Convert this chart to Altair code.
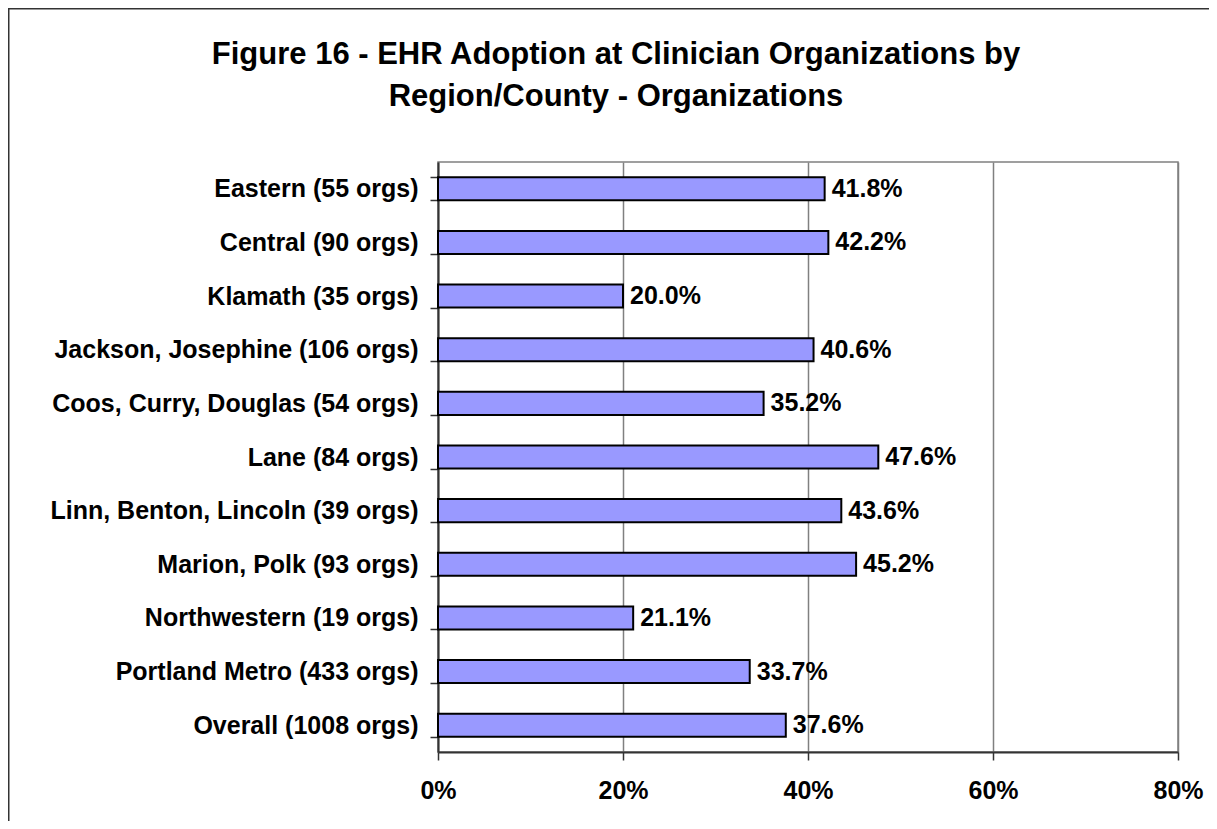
import altair as alt
import pandas as pd

title_lines = [
    "Figure 16 - EHR Adoption at Clinician Organizations by",
    "Region/County - Organizations",
]
categories = [
    "Eastern (55 orgs)",
    "Central (90 orgs)",
    "Klamath (35 orgs)",
    "Jackson, Josephine (106 orgs)",
    "Coos, Curry, Douglas (54 orgs)",
    "Lane (84 orgs)",
    "Linn, Benton, Lincoln (39 orgs)",
    "Marion, Polk (93 orgs)",
    "Northwestern (19 orgs)",
    "Portland Metro (433 orgs)",
    "Overall (1008 orgs)",
]
values = [41.8, 42.2, 20.0, 40.6, 35.2, 47.6, 43.6, 45.2, 21.1, 33.7, 37.6]
x_ticks = [0, 20, 40, 60, 80]

df = pd.DataFrame({"cat": categories, "val": values})
df["label"] = [f"{v:.1f}%" for v in values]

FONT = "Liberation Sans"
FS = 25

y_enc = alt.Y(
    "cat:N",
    sort=categories,
    title=None,
    scale=alt.Scale(paddingInner=0.57, paddingOuter=0.285),
    axis=alt.Axis(
        tickBand="extent",
        tickSize=8,
        tickColor="#333333",
        tickWidth=1.5,
        domainColor="#333333",
        domainWidth=2,
        labelFont=FONT,
        labelFontSize=FS,
        labelFontWeight="bold",
        labelColor="#000000",
        labelPadding=12,
        labelLimit=500,
        grid=False,
    ),
)
x_enc = alt.X(
    "val:Q",
    title=None,
    scale=alt.Scale(domain=[0, 80], nice=False),
    axis=alt.Axis(
        values=x_ticks,
        labelExpr="datum.value + '%'",
        labelFlush=False,
        tickSize=8,
        tickColor="#333333",
        tickWidth=1.5,
        domainColor="#333333",
        domainWidth=2,
        grid=True,
        gridColor="#808080",
        gridWidth=1.5,
        labelFont=FONT,
        labelFontSize=FS,
        labelFontWeight="bold",
        labelColor="#000000",
        labelPadding=18,
    ),
)

bars = alt.Chart(df).mark_bar(
    color="#9999FF", stroke="#000000", strokeWidth=2
).encode(x=x_enc, y=y_enc)

texts = alt.Chart(df).mark_text(
    align="left", baseline="middle", dx=7, font=FONT, fontSize=FS,
    fontWeight="bold", color="#000000"
).encode(x="val:Q", y=alt.Y("cat:N", sort=categories), text="label:N")

title = alt.Chart(alt.Data(values=[{}])).mark_text(
    align="center", baseline="alphabetic", font=FONT, fontSize=31,
    fontWeight="bold", color="#000000", lineHeight=42, clip=False
).encode(
    x=alt.value(178), y=alt.value(-98), text=alt.value(title_lines)
)

frame = alt.Chart(alt.Data(values=[{}])).mark_rect(
    fill=None, stroke="#333333", strokeWidth=2, clip=False
).encode(
    x=alt.value(-429.5), x2=alt.value(900),
    y=alt.value(-153.5), y2=alt.value(800),
)

chart = alt.layer(bars, texts, title, frame).properties(
    width=740,
    height=590,
    autosize=alt.AutoSizeParams(type="none"),
    padding={"left": 430, "top": 154, "right": 31, "bottom": 69},
).configure_view(stroke="#808080", strokeWidth=1.5)

chart.save("out.html", embed_options={"renderer": "svg", "actions": False})
